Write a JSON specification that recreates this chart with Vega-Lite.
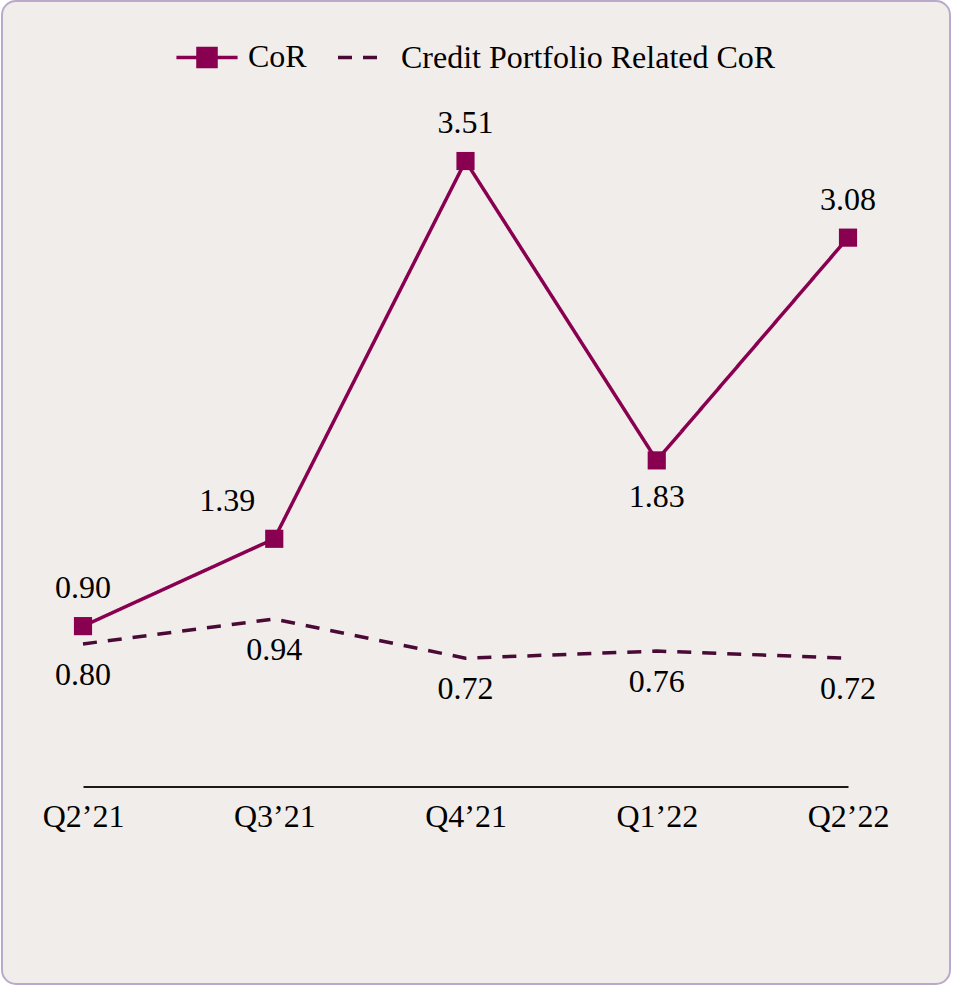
{
  "$schema": "https://vega.github.io/schema/vega-lite/v6.json",
  "width": 948,
  "height": 983,
  "autosize": {"type": "none"},
  "padding": {"left": 2, "top": 1, "right": 3, "bottom": 4},
  "background": "white",
  "config": {
    "view": {"fill": "#f0edea", "stroke": "#b9aacb", "strokeWidth": 2, "cornerRadius": 14},
    "font": "Liberation Serif",
    "text": {"font": "Liberation Serif", "fontSize": 32, "color": "black"}
  },
  "data": {
    "values": [
      {"quarter": "Q2’21", "series": "CoR", "value": 0.90},
      {"quarter": "Q3’21", "series": "CoR", "value": 1.39},
      {"quarter": "Q4’21", "series": "CoR", "value": 3.51},
      {"quarter": "Q1’22", "series": "CoR", "value": 1.83},
      {"quarter": "Q2’22", "series": "CoR", "value": 3.08},
      {"quarter": "Q2’21", "series": "Credit Portfolio Related CoR", "value": 0.80},
      {"quarter": "Q3’21", "series": "Credit Portfolio Related CoR", "value": 0.94},
      {"quarter": "Q4’21", "series": "Credit Portfolio Related CoR", "value": 0.72},
      {"quarter": "Q1’22", "series": "Credit Portfolio Related CoR", "value": 0.76},
      {"quarter": "Q2’22", "series": "Credit Portfolio Related CoR", "value": 0.72}
    ]
  },
  "encoding": {
    "x": {
      "field": "quarter",
      "type": "ordinal",
      "scale": {"type": "point", "domain": ["Q2’21", "Q3’21", "Q4’21", "Q1’22", "Q2’22"], "range": [81, 846], "padding": 0},
      "axis": {
        "title": null,
        "offset": -197.5,
        "domainColor": "#1a1a1a",
        "domainWidth": 2,
        "ticks": false,
        "grid": false,
        "labelAngle": 0,
        "labelFont": "Liberation Serif",
        "labelFontSize": 32,
        "labelColor": "black",
        "labelPadding": 15
      }
    },
    "y": {
      "field": "value",
      "type": "quantitative",
      "scale": {"domain": [0, 4], "range": [785.5, 72.7], "nice": false, "zero": false},
      "axis": null
    }
  },
  "layer": [
    {
      "mark": {"type": "line", "strokeWidth": 3.5},
      "encoding": {
        "color": {
          "field": "series",
          "type": "nominal",
          "scale": {"domain": ["CoR", "Credit Portfolio Related CoR"], "range": ["#8a0051", "#4a0a36"]},
          "legend": {
            "title": null,
            "orient": "none",
            "direction": "horizontal",
            "legendX": 181,
            "legendY": 32,
            "padding": 0,
            "symbolType": "stroke",
            "symbolSize": 1936,
            "symbolStrokeWidth": 3.5,
            "labelOffset": 17,
            "columnPadding": 24,
            "labelFont": "Liberation Serif",
            "labelFontSize": 32,
            "labelColor": "black",
            "labelLimit": 600,
            "encode": {
              "symbols": {
                "update": {
                  "shape": {"signal": "datum.label == 'CoR' ? 'M-1.39,0L1.39,0M-0.41,-0.41L0.41,-0.41L0.41,0.41L-0.41,0.41Z' : 'stroke'"},
                  "fill": {"signal": "datum.label == 'CoR' ? '#8a0051' : 'transparent'"}
                }
              }
            }
          }
        },
        "strokeDash": {
          "field": "series",
          "type": "nominal",
          "scale": {"domain": ["CoR", "Credit Portfolio Related CoR"], "range": [[1, 0], [14, 11]]},
          "legend": {
            "title": null,
            "orient": "none",
            "direction": "horizontal",
            "legendX": 181,
            "legendY": 32,
            "padding": 0,
            "symbolType": "stroke",
            "symbolSize": 1936,
            "symbolStrokeWidth": 3.5,
            "labelOffset": 17,
            "columnPadding": 24,
            "labelFont": "Liberation Serif",
            "labelFontSize": 32,
            "labelColor": "black",
            "labelLimit": 600
          }
        }
      }
    },
    {
      "transform": [{"filter": "datum.series == 'CoR'"}],
      "mark": {"type": "point", "shape": "square", "size": 330, "filled": true, "opacity": 1, "color": "#8a0051"}
    },
    {
      "transform": [{"filter": "datum.series == 'CoR' && datum.quarter != 'Q3’21' && datum.quarter != 'Q1’22'"}],
      "mark": {"type": "text", "dy": -38, "baseline": "middle"},
      "encoding": {"text": {"field": "value", "type": "quantitative", "format": ".2f"}}
    },
    {
      "transform": [{"filter": "datum.series == 'CoR' && datum.quarter == 'Q3’21'"}],
      "mark": {"type": "text", "dy": -38, "dx": -47, "baseline": "middle"},
      "encoding": {"text": {"field": "value", "type": "quantitative", "format": ".2f"}}
    },
    {
      "transform": [{"filter": "datum.series == 'CoR' && datum.quarter == 'Q1’22'"}],
      "mark": {"type": "text", "dy": 37, "baseline": "middle"},
      "encoding": {"text": {"field": "value", "type": "quantitative", "format": ".2f"}}
    },
    {
      "transform": [{"filter": "datum.series != 'CoR'"}],
      "mark": {"type": "text", "dy": 31, "baseline": "middle"},
      "encoding": {"text": {"field": "value", "type": "quantitative", "format": ".2f"}}
    }
  ]
}
